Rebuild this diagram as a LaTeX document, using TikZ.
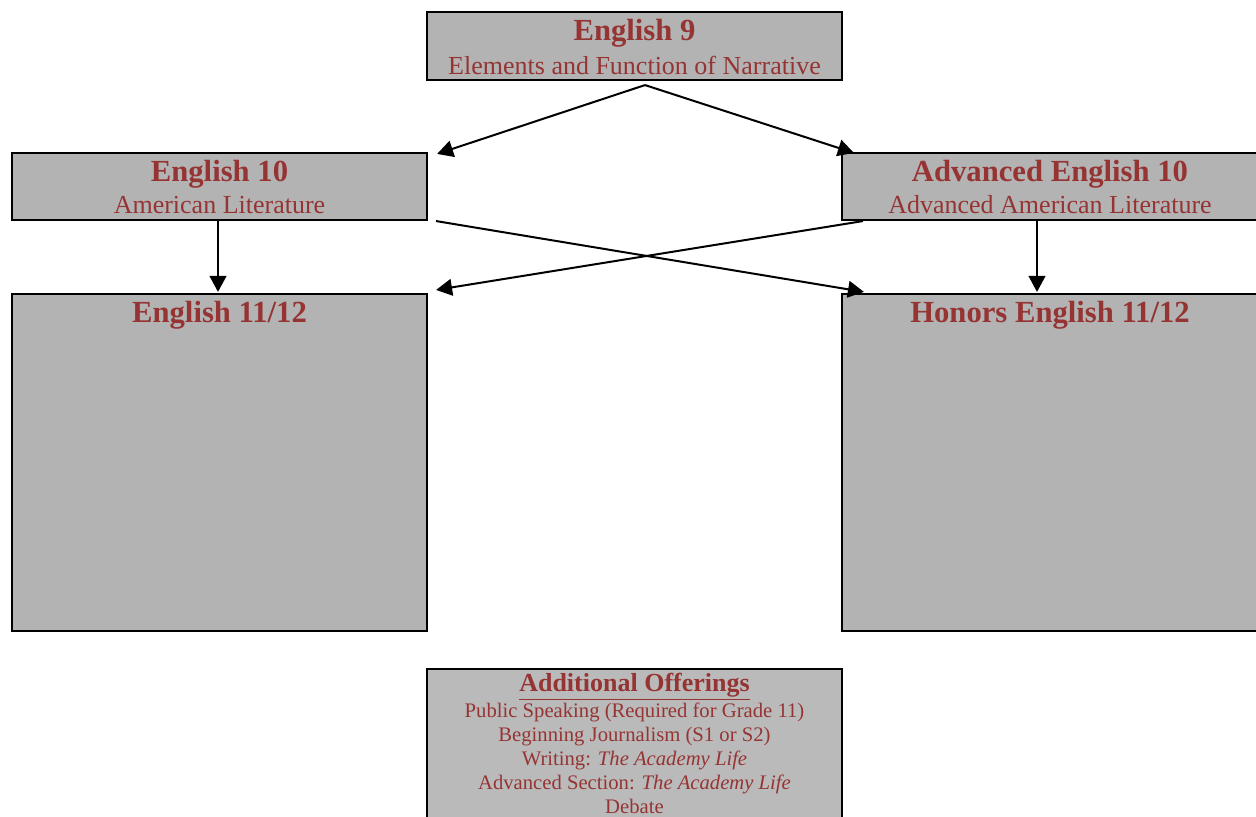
\documentclass[tikz,border=0pt]{standalone}
\usepackage{fontspec}
\setmainfont{Liberation Serif}
\usetikzlibrary{arrows.meta,calc}
\definecolor{boxgray}{RGB}{179,179,179}
\definecolor{lightgray2}{RGB}{186,186,186}
\definecolor{maroon}{RGB}{150,52,52}
\begin{document}
\begin{tikzpicture}[x=0.75pt,y=-0.75pt,
  box/.style={draw=black, line width=1.6pt, fill=boxgray, inner sep=0pt, minimum width=311.25pt},
  head/.style={text=maroon, font=\fontsize{23}{26}\selectfont\bfseries, inner sep=0pt},
  sub/.style={text=maroon, font=\fontsize{19.5}{22}\selectfont, inner sep=0pt},
  list/.style={text=maroon, font=\fontsize{15.5}{18}\selectfont, inner sep=0pt, align=center},
  link/.style={line width=1.5pt, -{Triangle[length=12pt,width=12.5pt]}}
]
\useasboundingbox (0,0) rectangle (1256,817);

% course boxes
\node[box, minimum height=51pt] (e9) at (634.5,46) {};
\node[box, minimum height=50.25pt] (e10) at (219.5,186.5) {};
\node[box, minimum height=50.25pt, minimum width=312pt] (adv) at (1050,186.5) {};
\node[box, minimum height=252.75pt] (e11) at (219.5,462.5) {};
\node[box, minimum height=252.75pt, minimum width=312pt] (hon) at (1050,462.5) {};
\node[box, fill=lightgray2, minimum height=160pt, anchor=north] (add) at (634.5,668) {};

% titles
\node[head] (t9) at (634.5,33) {English 9};
\node[sub] (s9) at (634.5,65) {Elements and Function of Narrative};
\node[head] (t10) at (219.5,174) {English 10};
\node[sub] (s10) at (219.5,205) {American Literature};
\node[head] (tadv) at (1050,174) {Advanced English 10};
\node[sub] (sadv) at (1050,205) {Advanced American Literature};
\node[head] (t11) at (219.5,315) {English 11/12};
\node[head] (thon) at (1050,315) {Honors English 11/12};

% additional offerings
\node[text=maroon, font=\fontsize{19.5}{22}\selectfont\bfseries, inner sep=0pt] (tadd) at (634.5,687) {\underline{Additional Offerings}};
\node[list, anchor=north] (ladd) at (634.5,703) {%
  Public Speaking (Required for Grade 11)\\
  Beginning Journalism (S1 or S2)\\
  Writing: \textit{The Academy Life}\\
  Advanced Section: \textit{The Academy Life}\\
  Debate};

% connectors
\coordinate (fork) at ($(e9.south)+(10.5,4)$);
\draw[link] (fork) -- ($(e10.north east)+(9,2)$);
\draw[link] (fork) -- ($(adv.north west)+(13,1)$);
\draw[link] ($(e10.south)+(-1.5,0)$) -- ($(e11.north)+(-1.5,-1)$);
\draw[link] ($(adv.south)+(-13,0)$) -- ($(hon.north)+(-13,-1)$);
\draw[link] ($(e10.south east)+(8,0)$) -- ($(hon.north west)+(23,-1)$);
\draw[link] ($(adv.south west)+(22,0)$) -- ($(e11.north east)+(8,-3)$);
\end{tikzpicture}
\end{document}
